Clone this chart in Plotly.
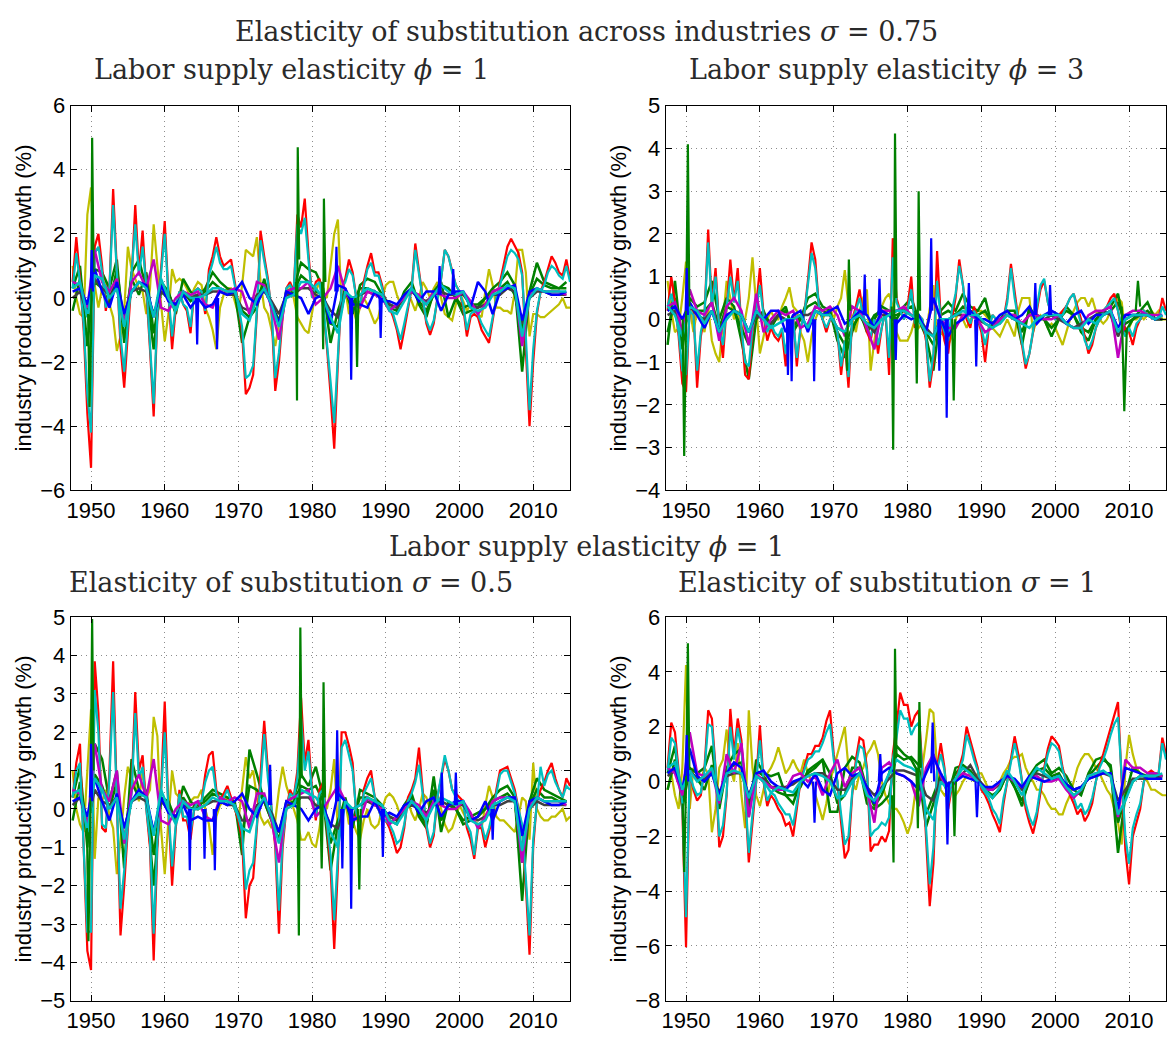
import plotly.graph_objects as go

# ---------------- time grids ----------------
HALF_START, HALF_STEP = 1947.5, 0.5   # half-year series (136 pts: 1947.5 .. 2015.0)
YEAR_START, YEAR_STEP = 1947.5, 1.0   # annual series   (68 pts: 1947.5 .. 2014.5)
X_TICKS = [1950, 1960, 1970, 1980, 1990, 2000, 2010]
X_RANGE = [1947.25, 2015.0]

# ================= Top-left: sigma=0.75, phi=1 =================
TL_RED = [0.5, 1.9, 0.6, -1.0, -3.6,
          -5.3, 1.6, 2.0, 1.0, -0.4, 0.3, 3.4, 0.9, -1.5, -2.8,
          -1.0, 0.6, 2.9, 0.8, 2.1, 0.4, -1.6, -3.7, -0.6, 0.9,
          2.4, 0.1, -1.6, -0.3, 0.2, -0.2, -0.4, -1.1, 0.2, 0.3,
          0.2, -0.5, 0.9, 1.3, 1.9, 1.3, 1.0, 1.1, 1.2, 0.5,
          -0.2, -1.1, -3.0, -2.8, -2.4, -0.5, 2.1, 1.3, 0.6, -0.5,
          -2.9, -2.0, -0.6, 0.3, 0.5, 0.2, 2.6, 2.2, 3.1, 1.4,
          0.0, 0.5, 0.6, -0.3, -1.5, -3.0, -4.7, -2.0, 0.3, 0.6,
          1.2, 0.8, 0.0, -0.3, 0.5, 1.0, 1.4, 0.8, 0.8, 0.4,
          -0.2, -0.3, -0.6, -1.0, -1.6, -1.0, -0.3, 0.3, 1.7, 0.8,
          0.0, -0.8, -1.15, -0.8, 0.0, 0.6, 1.5, 1.3, 0.8, 0.4,
          0.2, -0.3, -1.2, -0.6, -0.5, -0.6, -1.0, -1.2, -1.4, -0.7,
          0.0, 0.5, 1.0, 1.6, 1.85, 1.6, 1.4, 0.8, -1.5, -4.0,
          -2.0, -0.5, 0.2, 0.5, 0.9, 1.3, 1.1, 0.8, 0.7, 1.2,
          0.6]
TL_CYAN = [0.3, 1.4, 0.5, -0.8, -3.0,
           -4.2, 1.4, 1.6, 0.8, -0.3, 0.3, 2.9, 0.8, -1.2, -2.3,
           -0.8, 0.5, 2.3, 0.7, 1.6, 0.4, -1.3, -3.3, -0.5, 0.7,
           2.0, 0.1, -1.2, -0.2, 0.2, -0.2, -0.3, -0.9, 0.2, 0.3,
           0.2, -0.4, 0.7, 1.1, 1.6, 1.1, 0.9, 0.9, 1.0, 0.4,
           -0.2, -0.9, -2.5, -2.4, -2.1, -0.4, 1.8, 1.1, 0.5, -0.4,
           -2.5, -1.7, -0.5, 0.3, 0.4, 0.2, 2.3, 2.0, 2.5, 1.2,
           0.0, 0.4, 0.5, -0.2, -1.3, -2.6, -3.9, -1.7, 0.3, 0.5,
           0.9, 0.7, 0.0, -0.2, 0.4, 0.9, 1.1, 0.7, 0.7, 0.3,
           -0.2, -0.3, -0.5, -0.9, -1.3, -0.8, -0.3, 0.3, 1.5, 0.7,
           0.0, -0.7, -1.0, -0.7, 0.0, 0.6, 1.5, 1.3, 0.8, 0.4,
           0.2, -0.2, -1.0, -0.5, -0.4, -0.5, -0.8, -1.0, -1.2, -0.6,
           0.0, 0.4, 0.9, 1.3, 1.5, 1.4, 1.2, 0.7, -1.2, -3.5,
           -1.6, -0.4, 0.2, 0.4, 0.8, 1.0, 0.9, 0.7, 0.6, 1.0,
           0.5]
TL_YELLOW = [1.0, 0.0, -0.5, -0.6, 2.6,
             3.45, 0.4, -0.3, 0.3, 0.5, -0.2, -0.6, -1.65, -1.2, -0.4,
             1.6, 0.9, 0.6, 0.3, 0.2, -0.5, 0.3, 2.3, 1.0, -0.3,
             -1.35, -0.5, 0.9, 0.5, 0.6, 0.5, 0.3, 0.0, 0.3, 0.5,
             0.4, -0.3, -0.6, -1.0, -1.6, -0.3, 0.1, 0.3, 0.3, -0.1,
             -0.5, 0.4, 1.5, 1.4, 1.3, 1.9, 0.5, -0.3, -0.5, -1.0,
             -1.5, -0.8, -0.5, 0.2, 0.3, 0.0, -0.6, -0.8, -1.0, -1.1,
             -0.5, 0.2, 0.5, 0.1, 0.0, 1.0, 2.0, 2.45, -0.3, 0.3,
             -0.5, -0.3, -0.7, -0.3, 0.0, -0.2, -0.5, -0.8, -0.6, 0.0,
             0.4, 0.5, 0.5, 0.1, -0.2, 0.1, 0.2, -0.1, -0.4, 0.0,
             0.5, 0.3, 0.0, 0.3, 0.5, 0.0, -0.5, -0.6, -0.7, -0.2,
             0.2, -0.1, -0.4, -0.2, -0.3, -0.5, -0.6, 0.2, 0.9, 0.4,
             -0.3, -0.3, -0.4, -0.4, -0.5, 0.2, 1.5, 1.5, 0.8, -1.2,
             -0.5, -0.5, -0.6, -0.6, -0.5, -0.4, -0.3, -0.2, 0.0, -0.3,
             -0.3]
TL_GREEN = [0.3, 1.0, -1.5,
            0.9, 0.8, 0.3, 1.2, -1.4, 0.8, 1.2, 0.3, -1.6, 0.5,
            0.2, -0.5, 0.6, 0.2, 0.0, 0.3, 0.8, 0.5, 0.3, 0.2,
            -1.4, -0.6, -0.3, 0.6, -0.3, -0.8, 0.2, 0.3, 1.1, 0.9,
            0.8, 0.3, -1.4, -0.4, 0.3, -0.5, 0.4, 0.6, 0.5, 0.1,
            -0.3, -0.4, 0.2, 0.5, -0.2, -0.6, 0.2, 0.5, -0.6, 0.0,
            -0.5, -0.4, -0.3, 0.0, 0.3, 0.5, 0.8, 0.4, -2.3, 0.2,
            1.1, 0.5, 0.4, 0.3, 0.5]
TL_GREEN2 = [-0.4, 0.6, -0.5,
             0.5, 0.3, -0.2, 0.9, -0.8, 0.6, 0.1, 0.8, -1.1, 0.2,
             0.0, -0.3, 0.2, -0.1, 0.1, 0.2, 0.5, 0.3, 0.2, 0.1,
             -0.4, -0.6, 0.0, 0.5, -0.2, -0.7, 0.1, 0.2, 0.7, 0.5,
             0.2, 0.1, -0.8, -0.9, 0.2, -0.2, 0.3, 0.3, 0.2, 0.0,
             -0.2, -0.3, 0.1, 0.3, -0.1, -0.4, 0.1, 0.4, 0.3, 0.0,
             -0.3, -0.2, -0.2, 0.0, 0.2, 0.3, 0.5, 0.1, -1.0, 0.1,
             0.6, 0.4, 0.3, 0.3, 0.3]
TL_GRAY = [0.0, 0.2, -0.5,
           0.6, 0.3, 0.1, 0.3, -0.5, 0.2, 0.3, 0.2, -0.5, 0.2,
           0.0, -0.2, 0.1, 0.0, 0.1, 0.1, 0.2, 0.2, 0.1, 0.1,
           -0.3, -0.4, 0.1, 0.2, -0.1, -0.5, 0.1, 0.1, 0.3, 0.3,
           0.1, 0.0, -0.4, -0.6, 0.1, 0.0, 0.1, 0.2, 0.1, 0.1,
           -0.2, -0.3, 0.0, 0.2, 0.0, -0.1, 0.1, 0.2, 0.1, 0.1,
           0.1, -0.2, -0.3, -0.2, 0.1, 0.1, 0.3, 0.2, -0.8, 0.0,
           0.2, 0.2, 0.1, 0.1, 0.1]
TL_BLUE = [0.2, 0.3, -0.2,
           0.9, 0.2, -0.3, 0.5, -0.5, 0.2, 0.5, 0.4, -0.6, 0.4,
           -0.1, -0.2, 0.1, -0.3, 0.0, -0.3, -0.2, 0.2, 0.1, 0.2,
           0.5, 0.0, -0.2, 0.3, -0.2, -0.8, 0.2, 0.1, 0.0, -0.5,
           0.0, 0.1, -0.8, 0.4, 0.3, -0.2, -0.2, -0.3, 0.2, -0.1,
           -0.1, -0.2, 0.1, 0.3, -0.1, 0.2, 0.2, -0.4, 0.1, 0.2,
           0.2, -0.3, 0.5, 0.2, -0.5, 0.2, 0.3, 0.4, -0.7, 0.2,
           0.3, 0.2, 0.1, 0.1, 0.2]
TL_MAGENTA = [0.5, 0.4, -0.3,
              1.5, 0.5, 0.2, 0.6, -0.8, 0.5, 0.8, 0.3, 1.2, -0.3,
              -0.4, 0.0, 0.2, 0.1, 0.2, -0.2, -0.3, 0.3, 0.2, 0.3,
              0.2, -0.5, 0.5, 0.4, -0.3, -1.3, 0.2, 0.3, 0.3, 0.5,
              -0.2, 0.0, 0.3, 1.0, 0.2, -0.2, -0.3, 0.2, 0.1, 0.0,
              -0.4, -0.2, 0.0, 0.2, 0.1, -0.2, 0.2, 0.1, 0.0, 0.0,
              0.2, -0.1, -0.5, -0.2, 0.2, 0.3, 0.3, 0.4, -1.5, 0.1,
              0.3, 0.2, 0.2, 0.2, 0.1]
TL_CYAN2 = [0.3, 0.5, -0.6,
            0.7, 0.6, 0.0, 0.3, -0.9, 0.2, 0.5, 0.3, -0.6, 0.6,
            0.0, -0.4, 0.2, 0.0, 0.0, 0.1, 0.3, 0.3, 0.2, 0.2,
            -0.5, -0.7, 0.0, 0.3, -0.2, -0.9, 0.0, 0.1, 0.5, 0.5,
            0.3, 0.0, -0.6, -1.1, 0.2, 0.0, 0.1, 0.3, 0.2, 0.1,
            -0.4, -0.5, -0.1, 0.3, 0.0, -0.2, 0.1, 0.4, 0.2, 0.1,
            0.2, -0.3, -0.4, -0.3, 0.1, 0.2, 0.4, 0.3, -1.2, 0.0,
            0.3, 0.2, 0.2, 0.2, 0.2]
TL_GREEN_SPK_X = [1949.6, 1949.8, 1950.02, 1950.15, 1950.35, None,
                  1977.8, 1977.95, 1978.05, 1978.25, None,
                  1981.35, 1981.5, 1981.6, 1981.8, None,
                  1985.9, 1986.1, 1986.3]
TL_GREEN_SPK_Y = [-0.5, -3.4, -1.0, 5.0, 0.8, None,
                  0.5, -3.2, 4.7, 1.2, None,
                  0.5, -1.6, 3.1, 0.5, None,
                  0.0, -2.15, 0.2]
TL_BLUE_SPK_X = [1949.95, 1950.1, 1950.25, None, 1964.25, 1964.4, 1964.55, None,
                 1966.95, 1967.1, 1967.25, None, 1983.15, 1983.3, 1983.45, None,
                 1985.15, 1985.3, 1985.45, None, 1989.15, 1989.3, 1989.45, None,
                 1997.15, 1997.3, 1997.45, None, 1999.0, 1999.15, 1999.3]
TL_BLUE_SPK_Y = [0.3, 1.5, 0.2, None, 0.0, -1.45, 0.0, None,
                 0.0, -1.6, 0.0, None, 0.2, 1.6, 0.2, None,
                 0.0, -2.55, 0.0, None, 0.0, -1.25, 0.0, None,
                 0.1, 1.0, 0.1, None, 0.1, 0.9, 0.1]

# ================= Top-right: sigma=0.75, phi=3 =================
TR_RED = [0.2, 1.0, 0.4, -0.4, -1.5,
          -1.7, 0.3, 0.2, -1.6, -0.4, 0.1, 2.1, 0.3, 1.2, -0.2,
          -0.9, 0.3, 1.4, 0.4, 1.2, -0.2, -1.3, -1.4, -0.3, 0.3,
          1.2, 0.1, -0.5, -0.2, -0.4, -0.5, -0.3, -1.1, -0.2, 0.1,
          -1.1, -0.2, 0.1, 0.9, 1.8, 1.4, 0.3, 0.0, -0.3, 0.0,
          0.0, -0.3, -1.3, -0.5, -1.6, 0.0, 0.3, 0.7, 0.1, -0.3,
          -0.5, 0.0, -0.8, -0.2, 0.2, -1.3, 1.9, 0.5, 0.2, 0.0,
          0.3, 1.0, -0.2, 0.1, 0.0, -0.5, -1.6, -1.0, 1.6, 0.0,
          -0.5, -0.8, 0.0, 0.5, 1.4, 0.8, 0.0, -0.2, 0.3, 0.0,
          -0.3, -1.0, -0.2, 0.1, 0.0, -0.1, 0.0, 0.5, 1.3, 0.6,
          0.0, -0.6, -1.15, -0.8, -0.3, 0.3, 0.7, 0.9, 0.4, 0.1,
          0.0, 0.1, 0.2, 0.3, 0.5, 0.6, 0.3, 0.0, -0.4, -0.8,
          -0.6, -0.2, 0.0, 0.2, 0.3, 0.5, 0.6, 0.2, -0.3, -0.2,
          -0.3, -0.6, -0.2, 0.0, 0.2, 0.1, 0.1, 0.0, 0.0, 0.5,
          0.2]
TR_CYAN = [0.3, 0.6, 0.2, -0.3, -1.2,
           -1.3, 0.2, 0.1, -1.2, -0.3, 0.1, 1.8, 0.3, 1.0, -0.2,
           -0.6, 0.3, 1.0, 0.4, 0.9, -0.2, -1.0, -1.1, -0.2, 0.2,
           0.8, 0.1, -0.3, -0.1, -0.3, -0.4, -0.2, -0.8, -0.1, 0.0,
           -0.9, -0.2, 0.1, 0.8, 1.55, 1.2, 0.3, 0.0, -0.2, 0.0,
           0.0, -0.3, -1.1, -0.5, -1.35, 0.0, 0.2, 0.5, 0.1, -0.2,
           -0.4, 0.0, -0.6, -0.2, 0.2, -0.9, 1.45, 0.4, 0.2, 0.0,
           0.2, 0.7, -0.1, 0.1, 0.0, -0.4, -1.45, -0.8, 0.9, 0.0,
           -0.3, -0.5, 0.2, 0.6, 1.25, 0.8, 0.1, -0.1, 0.2, 0.0,
           -0.2, -0.6, -0.2, 0.1, 0.0, -0.1, 0.0, 0.4, 1.2, 0.5,
           0.0, -0.5, -1.05, -0.8, -0.3, 0.3, 0.8, 0.95, 0.4, 0.1,
           0.0, 0.1, 0.1, 0.3, 0.5, 0.6, 0.2, -0.1, -0.5, -0.7,
           -0.5, -0.2, 0.0, 0.2, 0.3, 0.4, 0.5, 0.2, -0.2, -0.4,
           -0.2, -0.4, -0.1, 0.0, 0.2, 0.1, 0.1, 0.0, 0.0, 0.3,
           0.1]
TR_YELLOW = [0.9, 0.2, -0.3, -0.2, 0.5,
             1.35, 0.3, -0.3, 0.2, 0.0, -0.3, 0.3, -0.5, -0.8, -1.0,
             0.0, 0.9, 0.5, 0.0, 0.2, -0.4, 0.0, 0.5, 1.45, 0.2,
             -0.8, -0.4, 0.0, 0.2, 0.0, 0.0, 0.3, 0.5, 0.75, 0.3,
             0.2, -0.3, -0.5, -1.0, -0.4, 0.0, 0.2, 0.0, 0.2, 0.3,
             0.0, 0.3, 0.5, 1.15, 0.3, 0.0, -0.3, 0.2, 0.5, 0.7,
             -1.2, -0.5, 0.0, 0.3, 0.5, 0.6, 0.3, -0.3, -0.5, -0.5,
             -0.5, -0.3, 0.0, -0.2, -0.1, -0.3, 0.2, 0.8, -0.5, -0.3,
             -0.4, -0.6, -0.4, 0.0, 0.2, 0.0, -0.2, 0.0, 0.1, 0.2,
             0.2, 0.1, 0.0, -0.2, -0.3, -0.4, -0.2, 0.0, -0.2, -0.4,
             0.2, 0.5, 0.5, 0.5, -0.3, 0.0, 0.1, 0.0, -0.2, -0.1,
             -0.2, -0.4, -0.6, -0.3, 0.0, 0.2, 0.4, 0.5, 0.5, 0.3,
             0.5, 0.2, 0.0, -0.1, 0.0, 0.2, 0.3, 0.5, 0.4, -0.3,
             -0.2, 0.0, 0.0, 0.1, 0.0, 0.1, 0.2, 0.1, 0.2, 0.0,
             0.0]
TR_GREEN = [-0.6, 0.9, -0.7,
            0.5, 0.3, 0.4, 0.9, 0.0, 0.5, 0.3, -0.5, -1.4, 0.0,
            0.2, -0.2, 0.1, 0.3, -0.3, 0.0, 0.5, 0.6, 0.3, 0.2,
            -0.5, -0.9, -0.3, 0.2, -0.3, 0.0, 0.3, 0.2, 0.0, 0.3,
            0.5, 0.0, -0.4, -1.2, 0.2, 0.4, 0.2, 0.6, 0.3, 0.2,
            0.5, -0.2, 0.0, 0.2, 0.2, -0.6, 0.3, 0.0, 0.0, -0.4,
            0.0, 0.3, 0.1, -0.3, -0.5, 0.0, 0.2, 0.3, 0.6, -0.3,
            0.0, 0.2, 0.4, 0.0, 0.0]
TR_GREEN2 = [-0.3, 0.5, -0.4,
             0.3, 0.2, 0.2, 0.4, -0.2, 0.3, 0.2, -0.2, -0.6, 0.1,
             0.1, -0.1, 0.1, 0.2, -0.2, 0.1, 0.3, 0.4, 0.2, 0.1,
             -0.3, -0.6, -0.2, 0.1, -0.2, 0.1, 0.2, 0.1, 0.1, 0.2,
             0.3, 0.1, -0.3, -0.6, 0.1, 0.2, 0.1, 0.3, 0.2, 0.1,
             0.2, -0.1, 0.0, 0.1, 0.1, -0.3, 0.2, 0.1, 0.0, -0.2,
             0.0, 0.2, 0.1, -0.2, -0.3, 0.0, 0.1, 0.2, 0.4, -0.1,
             0.0, 0.1, 0.2, 0.0, 0.0]
TR_GRAY = [0.1, 0.2, -0.3,
           0.3, 0.1, 0.0, 0.2, -0.3, 0.1, 0.2, 0.1, -0.3, 0.1,
           0.0, -0.1, 0.1, 0.0, 0.0, 0.1, 0.1, 0.2, 0.1, 0.1,
           -0.2, -0.3, 0.0, 0.1, -0.1, -0.3, 0.1, 0.1, 0.2, 0.2,
           0.1, 0.0, -0.2, -0.4, 0.0, 0.0, 0.1, 0.1, 0.1, 0.0,
           -0.1, -0.2, 0.0, 0.1, 0.0, -0.1, 0.1, 0.1, 0.0, 0.1,
           0.0, -0.1, -0.2, -0.1, 0.0, 0.1, 0.2, 0.1, -0.4, 0.0,
           0.1, 0.1, 0.1, 0.0, 0.0]
TR_BLUE = [0.2, 0.3, 0.0,
           0.4, 0.1, -0.2, 0.2, -0.3, 0.1, 0.2, 0.1, -0.3, 0.2,
           0.0, 0.2, 0.2, -0.3, 0.1, 0.2, -0.3, 0.2, 0.1, 0.2,
           0.3, -0.1, 0.0, 0.2, 0.1, -0.2, 0.2, 0.1, -0.1, 0.1,
           0.0, 0.1, -0.3, 0.5, 0.0, -0.4, -0.1, 0.0, 0.2, 0.0,
           0.0, -0.1, 0.1, 0.2, 0.0, 0.1, 0.3, -0.1, 0.1, 0.2,
           0.1, -0.1, 0.1, 0.2, -0.1, 0.1, 0.1, 0.2, -0.2, 0.1,
           0.1, 0.1, 0.1, 0.0, 0.1]
TR_MAGENTA = [0.3, 0.4, -0.3,
              0.7, 0.2, 0.1, 0.4, -0.5, 0.3, 0.5, 0.2, -0.6, 0.6,
              -0.3, 0.0, 0.2, 0.1, 0.2, -0.2, -0.1, 0.3, 0.2, 0.3,
              0.1, -0.4, 0.3, 0.2, -0.2, -0.7, 0.2, 0.2, 0.2, 0.3,
              0.1, 0.0, -0.3, 0.5, 0.0, -0.2, -0.2, 0.1, 0.1, 0.0,
              -0.3, -0.2, 0.0, 0.1, 0.1, -0.1, 0.1, 0.1, 0.0, 0.0,
              0.1, -0.1, -0.2, -0.2, 0.1, 0.2, 0.2, 0.3, -0.9, 0.1,
              0.2, 0.2, 0.1, 0.1, 0.1]
TR_CYAN2 = [0.3, 0.1, -0.4,
            0.3, 0.2, -0.1, 0.2, -0.3, 0.0, 0.2, 0.1, -0.3, 0.2,
            0.0, -0.2, -0.1, 0.0, 0.0, 0.1, -0.2, 0.2, 0.1, 0.1,
            -0.2, -0.3, 0.0, 0.1, -0.1, -0.2, 0.0, 0.1, 0.2, 0.2,
            0.1, 0.0, -0.3, -0.4, 0.0, 0.0, 0.1, 0.2, 0.1, 0.1,
            -0.1, -0.2, -0.1, 0.1, 0.0, -0.1, -0.2, 0.0, 0.1, 0.1,
            0.1, -0.1, -0.2, -0.2, 0.0, -0.1, 0.1, 0.2, -0.3, 0.0,
            0.1, 0.1, 0.1, 0.0, 0.1]
TR_GREEN_SPK_X = [1949.55, 1949.75, 1950.05, 1950.25, 1950.45, None,
                  1977.85, 1978.05, 1978.2, 1978.3, 1978.5, None,
                  1981.05, 1981.25, 1981.4, 1981.5, 1981.7, None,
                  1971.6, 1971.8, 1971.95, 1972.05, 1972.25, None,
                  1986.05, 1986.25, 1986.45, None,
                  2009.0, 2009.35, 2009.7, None,
                  2010.9, 2011.2, 2011.5]
TR_GREEN_SPK_Y = [0.0, -3.2, 0.5, 4.1, 0.3, None,
                  0.3, -3.05, 0.5, 4.35, 0.5, None,
                  0.2, -1.5, 0.3, 3.0, 0.2, None,
                  -0.3, -1.2, 0.3, 1.4, 0.2, None,
                  0.0, -1.9, 0.0, None,
                  0.3, -2.15, -0.2, None,
                  0.2, 0.9, 0.3]
TR_BLUE_SPK_X = [1949.95, 1950.1, 1950.25, None, 1963.65, 1963.8, 1963.95, None,
                 1964.15, 1964.3, 1964.45, None, 1967.2, 1967.35, 1967.5, None,
                 1974.05, 1974.2, 1974.35, None, 1976.05, 1976.2, 1976.35, None,
                 1978.25, 1978.4, 1978.55, None, 1983.05, 1983.2, 1983.35, None,
                 1984.15, 1984.3, 1984.45, None, 1985.15, 1985.3, 1985.45, None,
                 1988.15, 1988.3, 1988.45, None, 1989.15, 1989.3, 1989.45, None,
                 1997.15, 1997.3, 1997.45, None, 1999.15, 1999.3, 1999.45]
TR_BLUE_SPK_Y = [0.2, 1.2, 0.1, None, 0.0, -1.3, 0.0, None,
                 0.0, -1.45, 0.0, None, 0.0, -1.45, 0.0, None,
                 0.1, 1.05, 0.1, None, 0.1, 0.95, 0.1, None,
                 0.0, -0.95, 0.0, None, 0.2, 1.9, 0.2, None,
                 0.0, -1.2, 0.0, None, 0.0, -2.3, 0.0, None,
                 0.1, 0.85, 0.1, None, 0.0, -1.1, 0.0, None,
                 0.1, 0.85, 0.1, None, 0.1, 0.8, 0.1]

# ================= Bottom-left: sigma=0.5, phi=1 =================
BL_RED = [0.3, 1.2, 1.7, -1.0, -3.7,
          -4.2, 3.85, 2.5, -0.5, -0.6, 1.0, 3.85, 0.5, -3.3, -2.0,
          -0.5, 0.5, 3.05, 1.0, 1.4, 0.0, -1.0, -3.95, -1.0, 0.5,
          2.8, 0.0, -2.0, -0.5, 0.5, -0.3, -0.3, -0.8, 0.0, 0.2,
          0.2, 0.9, 1.4, 1.5, 0.5, 0.2, 0.4, 0.6, 0.3, 0.0,
          -0.3, -0.8, -2.85, -2.0, -1.8, -0.5, 0.8, 2.3, 1.0, 0.0,
          -1.0, -3.25, -1.0, 0.0, 0.5, 0.3, 1.0, 2.9, 1.2, 1.8,
          0.5, -0.3, 0.5, 0.7, -0.5, -1.5, -3.65, -1.5, 2.0, 2.0,
          1.65, 1.2, -0.2, -0.5, 0.5, 0.8, 1.0, 0.3, 0.0, -0.3,
          -0.3, -0.5, -0.8, -1.15, -1.0, -0.5, 0.3, 0.5, 0.8, 1.6,
          0.5, -0.5, -1.0, -0.7, 0.3, 0.8, 1.3, 1.0, 0.5, 0.4,
          0.3, 0.2, -0.5, -0.8, -1.3, -0.5, -0.5, -1.0, -0.6, -0.2,
          0.5, 1.0, 1.05, 1.1, 0.8, 0.5, 0.0, -0.5, -2.0, -3.8,
          -1.0, 0.2, 0.5, 0.7, 1.0, 1.2, 0.8, 0.5, 0.3, 0.8,
          0.6]
BL_CYAN = [0.3, 1.0, 1.2, -1.0, -3.2,
           -3.2, 3.1, 2.0, -0.4, -0.5, 0.8, 3.05, 0.4, -2.6, -1.6,
           -0.4, 0.4, 2.5, 0.8, 1.1, 0.0, -0.8, -3.25, -0.8, 0.4,
           2.0, 0.0, -1.5, -0.4, 0.4, -0.2, -0.2, -0.6, 0.0, 0.2,
           0.2, 0.7, 1.0, 1.1, 0.4, 0.2, 0.3, 0.5, 0.2, 0.0,
           -0.2, -0.6, -2.1, -1.6, -1.4, -0.4, 0.6, 1.95, 0.8, 0.0,
           -0.8, -2.65, -0.8, 0.0, 0.4, 0.3, 0.8, 2.35, 1.0, 1.5,
           0.4, -0.2, 0.4, 0.5, -0.4, -1.2, -2.9, -1.2, 1.6, 1.8,
           1.4, 1.0, -0.1, -0.4, 0.4, 0.6, 0.8, 0.3, 0.0, -0.3,
           -0.3, -0.4, -0.6, -0.9, -0.8, -0.4, 0.2, 0.4, 0.7, 1.15,
           0.4, -0.4, -0.9, -0.6, 0.3, 0.8, 1.4, 1.0, 0.5, 0.3,
           0.2, 0.1, -0.4, -0.6, -1.2, -0.4, -0.4, -0.8, -0.5, -0.1,
           0.4, 0.9, 1.0, 1.0, 0.7, 0.4, 0.0, -0.4, -1.8, -3.3,
           -0.8, 0.2, 1.1, 0.6, 0.9, 1.0, 0.7, 0.5, 0.3, 0.6,
           0.5]
BL_YELLOW = [1.0, 0.0, -0.4, -0.6, 1.0,
             2.6, -1.3, 0.3, 0.2, 0.5, -0.2, -0.5, -1.7, -0.8, 0.3,
             1.1, 0.8, 0.6, 0.2, 1.0, 0.3, 0.5, 2.4, 1.9, -0.5,
             -1.7, -0.3, 1.0, 0.4, 0.3, 0.2, 0.1, 0.2, 0.3, 0.3,
             0.5, 0.0, -0.4, -1.2, -0.2, 0.1, 0.2, 0.3, 0.2, 0.0,
             -0.3, 0.5, 1.35, 0.8, 1.0, 0.3, -0.2, -0.4, -0.3, -0.5,
             -0.3, 0.5, 1.1, 0.6, 0.3, 0.0, -0.3, -0.8, -0.8, -0.6,
             -0.9, -1.0, -0.5, 0.2, 0.0, 0.5, 1.3, -0.6, -0.3, 0.2,
             -0.4, -0.3, -0.6, -0.8, -0.3, 0.0, -0.4, -0.5, -0.4, 0.0,
             0.3, 0.4, 0.3, 0.1, -0.2, 0.1, 0.2, -0.1, -0.3, 0.0,
             0.4, 0.3, 0.0, 0.2, 0.4, 0.0, -0.4, -0.6, -0.5, -0.2,
             0.1, -0.1, -0.3, -0.2, -0.3, -0.4, -0.5, 0.1, 0.6, 0.3,
             -0.2, -0.3, -0.3, -0.4, -0.5, -0.6, -0.2, 0.3, 0.2, -0.8,
             1.2, 0.0, -0.2, -0.3, -0.3, -0.2, -0.2, -0.1, 0.0, -0.3,
             -0.2]
BL_GREEN = [0.3, 1.1, -1.0,
            1.7, 1.3, 0.2, 1.0, -1.55, 1.3, 0.5, 0.3, -2.0, 0.3,
            0.2, -0.3, 0.6, 0.2, 0.0, 0.3, 0.5, 0.4, 0.3, 0.2,
            -1.2, 1.55, 0.9, 0.2, -0.3, -0.8, 0.2, 0.3, 0.9, 0.6,
            1.1, 0.3, -1.6, -0.4, 0.3, -0.5, 0.5, 0.4, 0.3, 0.1,
            -0.3, -0.4, 0.1, 0.4, -0.2, -0.5, 0.85, -0.6, 0.2, 0.0,
            -0.4, -0.3, -0.2, 0.0, 0.3, 0.5, 0.6, 0.3, -2.4, 0.2,
            0.8, 0.5, 0.4, 0.3, 0.2]
BL_GREEN2 = [-0.3, 0.7, -0.6,
             0.9, 0.6, 0.0, 0.7, -0.9, 0.7, 0.3, 0.5, -1.2, 0.2,
             0.1, -0.3, 0.3, 0.0, 0.1, 0.2, 0.4, 0.3, 0.2, 0.1,
             -0.7, 0.6, 0.5, 0.2, -0.3, -0.6, 0.1, 0.2, 0.6, 0.5,
             0.6, 0.2, -0.9, -0.3, 0.2, -0.3, 0.3, 0.3, 0.2, 0.0,
             -0.2, -0.3, 0.1, 0.3, -0.1, -0.4, 0.5, -0.3, 0.1, 0.0,
             -0.3, -0.2, -0.1, 0.0, 0.2, 0.3, 0.4, 0.2, -1.4, 0.1,
             0.5, 0.3, 0.3, 0.2, 0.2]
BL_GRAY = [0.1, 0.3, -0.4,
           0.5, 0.2, 0.1, 0.3, -0.5, 0.2, 0.3, 0.2, -0.6, 0.2,
           0.0, -0.2, 0.1, 0.0, 0.0, 0.1, 0.2, 0.2, 0.1, 0.1,
           -0.3, -0.3, 0.1, 0.2, -0.1, -0.6, 0.1, 0.1, 0.3, 0.3,
           0.1, 0.0, -0.4, -0.5, 0.1, 0.0, 0.1, 0.2, 0.1, 0.0,
           -0.2, -0.3, 0.0, 0.1, 0.0, -0.1, 0.1, 0.2, 0.1, 0.1,
           0.1, -0.2, -0.3, -0.2, 0.1, 0.1, 0.2, 0.2, -0.7, 0.0,
           0.2, 0.1, 0.1, 0.1, 0.1]
BL_BLUE = [0.2, 0.3, -0.2,
           0.8, 0.2, -0.3, 0.4, -0.5, 0.2, 0.5, 0.3, -0.6, 0.3,
           -0.1, -0.2, 0.1, -0.3, -0.2, -0.3, -0.3, 0.2, 0.1, 0.2,
           0.4, 0.0, -0.2, 0.3, -0.2, -0.6, 0.2, 0.1, 0.0, -0.3,
           0.0, 0.1, -0.5, 0.4, 0.2, -0.3, -0.2, -0.2, 0.2, -0.2,
           -0.1, -0.2, 0.1, 0.2, -0.1, 0.2, 0.3, -0.2, 0.1, 0.2,
           0.2, -0.3, -0.2, 0.2, -0.3, 0.2, 0.3, 0.3, -0.7, 0.2,
           0.3, 0.2, 0.1, 0.1, 0.2]
BL_MAGENTA = [0.5, 0.4, -0.5,
              1.7, 0.5, 0.2, 1.0, -0.9, 0.5, 0.9, 0.3, 1.3, -0.3,
              -0.4, 0.0, 0.2, 0.1, 0.2, -0.2, -0.3, 0.3, 0.2, 0.3,
              0.2, -0.5, 0.4, 0.4, -0.3, -1.4, 0.2, 0.3, 0.4, 0.5,
              -0.2, 0.0, 0.3, 0.6, 0.2, -0.2, -0.3, 0.3, 0.1, 0.0,
              -0.4, -0.2, 0.0, 0.2, 0.1, -0.2, 0.2, 0.1, 0.0, 0.0,
              0.2, -0.1, -0.5, -0.2, 0.2, 0.3, 0.3, 0.3, -1.4, 0.1,
              0.3, 0.2, 0.2, 0.2, 0.1]
BL_CYAN2 = [0.4, 0.5, -0.6,
            0.8, 0.5, 0.0, 0.3, -0.8, 0.2, 0.4, 0.3, -0.7, 0.5,
            0.0, -0.4, 0.2, 0.0, 0.0, 0.1, 0.3, 0.2, 0.2, 0.1,
            -0.5, -0.6, 0.0, 0.3, -0.2, -0.9, 0.0, 0.1, 0.5, 0.4,
            0.3, 0.0, -0.6, -1.0, 0.2, 0.0, 0.1, 0.3, 0.2, 0.1,
            -0.3, -0.4, -0.1, 0.2, 0.0, -0.3, 0.1, 0.3, 0.2, 0.1,
            0.2, -0.3, -0.4, -0.3, 0.1, 0.2, 0.3, 0.2, -1.1, 0.0,
            0.3, 0.2, 0.2, 0.2, 0.2]
BL_GREEN_SPK_X = [1949.45, 1949.65, 1949.95, 1950.15, 1950.35, None,
                  1978.0, 1978.2, 1978.3, 1978.4, 1978.6, None,
                  1981.1, 1981.3, 1981.45, 1981.55, 1981.75, None,
                  1986.2, 1986.4, 1986.6]
BL_GREEN_SPK_Y = [-0.5, -3.45, 0.5, 4.95, 1.0, None,
                  0.3, -3.3, 0.5, 4.73, 0.8, None,
                  0.3, -1.55, 0.3, 3.3, 0.3, None,
                  0.0, -2.1, 0.0]
BL_BLUE_SPK_X = [1949.85, 1950.0, 1950.15, None, 1963.25, 1963.4, 1963.55, None,
                 1965.25, 1965.4, 1965.55, None, 1966.65, 1966.8, 1966.95, None,
                 1974.15, 1974.3, 1974.45, None, 1983.25, 1983.4, 1983.55, None,
                 1983.95, 1984.1, 1984.25, None, 1985.15, 1985.3, 1985.45, None,
                 1989.45, 1989.6, 1989.75, None, 1997.45, 1997.6, 1997.75, None,
                 1999.35, 1999.5, 1999.65, None, 2004.35, 2004.5, 2004.65]
BL_BLUE_SPK_Y = [0.3, 1.7, 0.2, None, 0.0, -1.6, 0.0, None,
                 0.0, -1.3, 0.0, None, 0.0, -1.6, 0.0, None,
                 0.1, 1.15, 0.1, None, 0.2, 2.05, 0.2, None,
                 0.0, -1.55, 0.0, None, 0.0, -2.6, 0.0, None,
                 0.0, -1.25, 0.0, None, 0.1, 0.95, 0.1, None,
                 0.1, 0.95, 0.1, None, 0.0, -0.8, 0.0]

# ================= Bottom-right: sigma=1, phi=1 =================
BR_RED = [0.5, 2.15, 1.8, 0.5, -1.0,
          -6.05, 0.3, -0.3, -0.7, -0.5, 0.5, 2.6, 2.3, 0.5, -2.4,
          -2.0, -0.5, 2.65, 1.0, 2.3, 1.5, -0.5, -2.95, -1.5, 0.0,
          2.05, 0.0, -0.9, -0.5, -0.7, -1.0, -1.2, -1.6, -1.5, -2.0,
          -1.0, 0.0, 0.5, 1.0, 1.0, 1.3, 1.3, 1.6, 2.2, 2.6,
          1.0, 0.0, -1.5, -2.8, -2.5, -0.5, 0.8, 1.6, 1.5, 0.5,
          -2.55, -2.3, -2.3, -2.0, -2.2, -1.8, 1.0, 2.0, 3.25, 2.8,
          2.8, 2.0, 2.4, 2.6, 0.5, -2.0, -4.55, -3.0, 0.5, 1.4,
          0.5, -1.0, -0.2, 0.0, 0.5, 1.0, 2.0, 1.5, 1.0, 0.5,
          -0.3, -0.5, -0.8, -1.2, -1.5, -1.85, -0.8, 0.0, 0.8, 1.65,
          1.0, 0.0, -1.0, -1.5, -1.9, -1.3, -0.3, 0.5, 1.2, 1.65,
          1.5, 1.3, 0.5, 0.0, -0.5, -0.8, -1.2, -1.0, -1.45, -1.2,
          -0.8, 0.0, 0.6, 1.0, 1.5, 2.0, 2.5, 2.9, 0.0, -2.5,
          -3.75, -2.0, -1.5, -1.0, 0.0, 0.3, 0.4, 0.3, 0.3, 1.6,
          1.0]
BR_CYAN = [0.4, 1.6, 1.4, 0.4, -0.8,
           -4.95, 0.3, -0.2, -0.5, -0.4, 0.4, 2.1, 2.0, 0.4, -2.0,
           -1.6, -0.4, 2.0, 0.8, 1.95, 1.2, -0.4, -2.6, -1.2, 0.0,
           1.5, 0.0, -0.7, -0.4, -0.5, -0.8, -1.0, -1.2, -1.2, -1.6,
           -0.8, 0.0, 0.4, 0.8, 0.9, 1.1, 1.1, 1.4, 1.8, 2.1,
           0.8, 0.0, -1.2, -2.3, -2.0, -0.4, 0.6, 1.3, 1.2, 0.4,
           -2.0, -1.8, -1.7, -1.5, -1.6, -1.3, 0.8, 1.6, 2.6, 2.3,
           2.3, 1.7, 2.0, 2.15, 0.4, -1.6, -3.75, -2.4, 0.4, 1.0,
           0.4, -0.8, -0.1, 0.0, 0.4, 0.8, 1.7, 1.3, 0.8, 0.4,
           -0.2, -0.4, -0.6, -1.0, -1.2, -1.55, -0.6, 0.0, 0.7, 1.4,
           0.8, 0.0, -0.8, -1.3, -1.6, -1.1, -0.2, 0.4, 1.0, 1.4,
           1.3, 1.1, 0.4, 0.0, -0.4, -0.6, -1.0, -0.8, -1.2, -1.0,
           -0.6, 0.0, 0.5, 0.8, 1.2, 1.7, 2.1, 2.35, 0.0, -2.0,
           -3.0, -1.7, -1.2, -0.8, 0.0, 0.3, 0.3, 0.3, 0.3, 1.4,
           0.8]
BR_YELLOW = [-0.3, 0.3, -0.5, -1.0, 0.5,
             4.25, -1.0, 0.5, 0.3, 0.0, 0.5, 0.3, -1.85, -1.0, 0.5,
             0.8, 1.9, 0.5, 0.0, 1.4, -0.5, -1.7, 2.6, 0.5, -0.5,
             -0.9, -0.3, 0.3, 0.5, 0.8, 1.25, 0.8, 0.3, 0.5, 0.8,
             0.5, 0.3, 0.8, 0.3, 0.0, -0.5, -1.0, -1.4, -0.8, 0.0,
             0.5, 1.0, 1.5, 2.0, 0.5, 0.0, -0.3, 0.3, 0.5, 1.0,
             1.2, 1.5, 1.0, 0.0, -0.5, -0.8, -1.0, -1.0, -1.2, -1.5,
             -1.9, -1.5, -0.5, 0.0, 0.5, 1.5, 2.65, 2.5, 0.5, -0.3,
             -0.5, -0.3, -0.3, -0.5, -0.3, 0.0, 0.2, 0.3, 0.0, 0.3,
             0.3, 0.0, -0.3, -0.3, -0.2, 0.0, 0.3, 0.5, 0.8, 0.9,
             0.9, 1.0, 0.5, 0.2, 0.0, -0.3, -0.3, -0.5, -0.8, -1.0,
             -1.0, -1.2, -1.2, -0.8, -0.5, 0.0, 0.5, 0.8, 1.0, 1.0,
             0.8, 0.5, 0.3, 0.0, -0.3, -0.5, -1.0, -1.5, -2.3, 0.5,
             1.7, 1.0, 0.5, 0.3, 0.2, 0.0, -0.3, -0.3, -0.4, -0.5,
             -0.5]
BR_GREEN = [0.3, 1.3, -1.0,
            0.5, 0.3, 0.5, 1.3, -1.0, 0.5, 1.0, 1.2, -1.3, 0.8,
            0.3, 0.2, 0.3, -0.5, -0.8, 0.0, 0.3, 0.5, 0.8, -1.1,
            -1.1, 0.5, 0.9, 0.7, -0.3, -0.9, -0.5, 0.3, 1.3, 1.0,
            0.8, 0.3, -1.65, -0.8, 0.3, -0.5, 0.5, 0.6, 0.3, 0.1,
            -0.3, -0.5, -0.3, 0.3, -0.2, -0.9, 0.2, 0.6, 0.8, 0.3,
            0.5, 0.2, -0.3, -0.5, 0.3, 0.8, 0.9, 0.5, -2.6, -0.5,
            0.5, 0.3, 0.2, 0.3, 0.2]
BR_GREEN2 = [-0.3, 0.8, -0.6,
             0.4, 0.1, -0.3, 0.6, -0.7, 0.4, 0.6, 0.7, -0.9, 0.4,
             0.2, -0.2, -0.4, -0.5, -0.5, -0.2, 0.4, 0.6, 0.8, 0.3,
             -0.8, -0.5, 0.5, 0.5, -0.8, -1.0, -0.8, -0.5, 1.0, 0.8,
             0.9, 0.6, -1.2, -0.5, 0.2, -0.3, 0.3, 0.6, 0.4, 0.0,
             -0.3, -0.6, -0.3, 0.3, -0.2, -0.7, 0.0, 0.4, 0.5, 0.2,
             0.3, -0.2, -0.5, -0.4, 0.2, 0.5, 0.8, 0.6, -1.5, -0.6,
             0.0, 0.2, 0.2, 0.2, 0.2]
BR_GRAY = [0.2, 0.4, -0.4,
           0.4, 0.1, 0.1, 0.3, -0.4, 0.2, 0.3, 0.3, -0.5, 0.2,
           0.1, -0.2, -0.2, -0.2, -0.1, 0.1, 0.2, 0.3, 0.3, 0.1,
           -0.3, -0.3, 0.1, 0.3, -0.2, -0.5, -0.2, 0.1, 0.4, 0.4,
           0.3, 0.2, -0.5, -0.7, 0.1, -0.1, 0.1, 0.3, 0.6, 0.1,
           -0.2, -0.3, -0.1, 0.2, 0.0, -0.3, 0.1, 0.3, 0.2, 0.1,
           0.1, -0.1, -0.3, -0.2, 0.1, 0.2, 0.3, 0.2, -0.7, -0.3,
           0.1, 0.1, 0.1, 0.1, 0.2]
BR_BLUE = [0.3, 0.5, -0.3,
           1.2, 0.2, 0.0, 0.3, -0.5, 0.3, 0.7, 0.5, -0.6, 0.3,
           0.4, 0.0, -0.2, -0.3, 0.0, 0.1, -0.2, 0.3, -0.3, -0.5,
           0.3, 0.5, 0.2, 0.3, -0.2, -0.8, 0.3, 0.5, 0.3, 0.2,
           0.0, -0.3, 0.3, 0.9, 0.3, -0.2, 0.0, 0.2, 0.1, 0.0,
           -0.2, -0.2, 0.0, 0.2, 0.1, -0.2, 0.2, 0.1, 0.0, 0.1,
           0.2, -0.1, -0.3, -0.2, 0.1, 0.2, 0.3, 0.3, -1.0, 0.5,
           0.4, 0.3, 0.1, 0.1, 0.1]
BR_MAGENTA = [0.5, 0.3, -0.5,
              1.8, 0.3, 0.2, 0.4, -0.8, 1.0, 0.3, 1.4, -1.3, 0.3,
              0.0, -0.2, -0.3, -0.3, 0.2, 0.3, 0.0, 0.2, -0.5, 0.3,
              0.8, -0.2, 0.3, 0.5, -0.3, -1.5, 0.5, 0.7, 0.3, 0.2,
              0.0, -0.9, 0.5, 1.0, 0.2, -0.3, 0.0, 0.3, 0.2, 0.0,
              -0.3, -0.3, 0.0, 0.2, 0.0, -0.2, 0.1, 0.2, 0.0, 0.0,
              0.1, -0.3, -0.6, -0.3, 0.2, 0.3, 0.3, 0.3, -1.3, 0.8,
              0.5, 0.5, 0.3, 0.3, 0.2]
BR_CYAN2 = [0.5, 0.7, -0.3,
            0.4, 0.0, 0.2, 0.5, -0.7, 0.3, 0.4, 0.3, -0.6, 0.2,
            0.0, -0.4, -0.2, -0.3, -0.4, 0.0, 0.2, 0.3, 0.2, 0.0,
            -0.6, -0.5, 0.0, 0.3, -0.5, -0.7, -0.3, 0.3, 0.8, 0.6,
            0.5, 0.3, -1.0, -1.4, 0.0, -0.3, 0.1, 0.5, 0.3, 0.0,
            -0.3, -0.6, -0.2, 0.4, 0.0, -0.5, 0.1, 0.5, 0.3, 0.1,
            0.2, -0.2, -0.5, -0.3, 0.2, 0.3, 0.4, 0.2, -1.2, -0.7,
            0.0, 0.2, 0.2, 0.2, 0.3]
BR_GREEN_SPK_X = [1949.55, 1949.75, 1950.05, 1950.25, 1950.45, None,
                  1977.9, 1978.1, 1978.2, 1978.3, 1978.5, None,
                  1981.2, 1981.4, 1981.5, 1981.6, 1981.8, None,
                  1986.15, 1986.35, 1986.55]
BR_GREEN_SPK_Y = [-0.8, -3.3, 0.5, 5.05, 0.5, None,
                  -0.5, -2.95, 0.5, 4.85, 1.0, None,
                  0.5, -1.7, 0.5, 2.9, 0.5, None,
                  0.0, -2.0, 0.0]
BR_BLUE_SPK_X = [1949.9, 1950.1, 1950.3, None, 1967.2, 1967.4, 1967.6, None,
                 1976.1, 1976.3, 1976.5, None, 1983.2, 1983.4, 1983.6, None,
                 1985.2, 1985.4, 1985.6, None, 1989.2, 1989.4, 1989.6]
BR_BLUE_SPK_Y = [0.2, 1.7, 0.0, None, 0.0, -1.5, 0.0, None,
                 0.0, 1.0, 0.0, None, 0.3, 2.15, 0.0, None,
                 0.0, -2.3, 0.0, None, 0.0, -1.3, 0.0]

# ---------------- styling ----------------
C_RED, C_CYAN, C_YELLOW = "#FF0000", "#00BFBF", "#BFBF00"
C_GREEN, C_BLUE, C_MAG, C_GRAY = "#008000", "#0000FF", "#BF00BF", "#404040"
LW_BIG = 2.2
LW_SMALL = 2.5
TICK_FONT = dict(family="Liberation Sans, Arial, sans-serif", size=22, color="black")
TITLE_FONT = dict(family="DejaVu Serif, serif", size=27, color="#2a2a2a")
YLABEL = "industry productivity growth (%)"


def grid_x(vals, start, step):
    return [start + step * i for i in range(len(vals))]


panels = [
    dict(xa="x", ya="y", dom_x=[67 / 1168, 568 / 1168], dom_y=[1 - 490 / 1044, 1 - 96 / 1044],
         yr=[-6, 6], dt=2,
         half=[(TL_YELLOW, C_YELLOW), (TL_RED, C_RED), (TL_CYAN, C_CYAN)],
         year=[(TL_GREEN2, C_GREEN), (TL_GREEN, C_GREEN), (TL_GRAY, C_GRAY), (TL_MAGENTA, C_MAG),
               (TL_BLUE, C_BLUE), (TL_CYAN2, C_CYAN)],
         spk=[(TL_GREEN_SPK_X, TL_GREEN_SPK_Y, C_GREEN), (TL_BLUE_SPK_X, TL_BLUE_SPK_Y, C_BLUE)]),
    dict(xa="x2", ya="y2", dom_x=[664 / 1168, 1166 / 1168], dom_y=[1 - 490 / 1044, 1 - 96 / 1044],
         yr=[-4, 5], dt=1,
         half=[(TR_YELLOW, C_YELLOW), (TR_RED, C_RED), (TR_CYAN, C_CYAN)],
         year=[(TR_GREEN2, C_GREEN), (TR_GREEN, C_GREEN), (TR_GRAY, C_GRAY), (TR_MAGENTA, C_MAG),
               (TR_BLUE, C_BLUE), (TR_CYAN2, C_CYAN)],
         spk=[(TR_GREEN_SPK_X, TR_GREEN_SPK_Y, C_GREEN), (TR_BLUE_SPK_X, TR_BLUE_SPK_Y, C_BLUE)]),
    dict(xa="x3", ya="y3", dom_x=[67 / 1168, 568 / 1168], dom_y=[1 - 1013 / 1044, 1 - 620 / 1044],
         yr=[-5, 5], dt=1,
         half=[(BL_YELLOW, C_YELLOW), (BL_RED, C_RED), (BL_CYAN, C_CYAN)],
         year=[(BL_GREEN2, C_GREEN), (BL_GREEN, C_GREEN), (BL_GRAY, C_GRAY), (BL_MAGENTA, C_MAG),
               (BL_BLUE, C_BLUE), (BL_CYAN2, C_CYAN)],
         spk=[(BL_GREEN_SPK_X, BL_GREEN_SPK_Y, C_GREEN), (BL_BLUE_SPK_X, BL_BLUE_SPK_Y, C_BLUE)]),
    dict(xa="x4", ya="y4", dom_x=[664 / 1168, 1166 / 1168], dom_y=[1 - 1013 / 1044, 1 - 620 / 1044],
         yr=[-8, 6], dt=2,
         half=[(BR_YELLOW, C_YELLOW), (BR_RED, C_RED), (BR_CYAN, C_CYAN)],
         year=[(BR_GREEN2, C_GREEN), (BR_GREEN, C_GREEN), (BR_GRAY, C_GRAY), (BR_MAGENTA, C_MAG),
               (BR_BLUE, C_BLUE), (BR_CYAN2, C_CYAN)],
         spk=[(BR_GREEN_SPK_X, BR_GREEN_SPK_Y, C_GREEN), (BR_BLUE_SPK_X, BR_BLUE_SPK_Y, C_BLUE)]),
]

fig = go.Figure()
layout = dict(
    width=1168, height=1044, margin=dict(l=0, r=0, t=0, b=0),
    paper_bgcolor="white", plot_bgcolor="white", showlegend=False,
)

for p in panels:
    def add(x, y, c, w):
        fig.add_trace(go.Scatter(x=x, y=y, mode="lines", xaxis=p["xa"], yaxis=p["ya"],
                                 line=dict(color=c, width=w), hoverinfo="skip"))
    add(grid_x(p["half"][0][0], HALF_START, HALF_STEP), p["half"][0][0], p["half"][0][1], LW_BIG)
    for vals, c in p["year"][:2]:
        add(grid_x(vals, YEAR_START, YEAR_STEP), vals, c, LW_SMALL)
    for vals, c in p["half"][1:]:
        add(grid_x(vals, HALF_START, HALF_STEP), vals, c, LW_BIG)
    for vals, c in p["year"][2:]:
        add(grid_x(vals, YEAR_START, YEAR_STEP), vals, c, LW_SMALL)
    for sx, sy, c in p["spk"]:
        add(sx, sy, c, LW_BIG)

    axis_common = dict(showline=True, linecolor="black", linewidth=1, mirror="ticks",
                       ticks="inside", ticklen=6, tickcolor="black", tickwidth=1,
                       showgrid=True, gridcolor="#8c8c8c", griddash="1px,4px", gridwidth=1,
                       zeroline=False, tickfont=TICK_FONT)
    xkey = "xaxis" if p["xa"] == "x" else "xaxis" + p["xa"][1:]
    ykey = "yaxis" if p["ya"] == "y" else "yaxis" + p["ya"][1:]
    layout[xkey] = dict(axis_common, domain=p["dom_x"], range=X_RANGE, tickvals=X_TICKS,
                        anchor=p["ya"])
    layout[ykey] = dict(axis_common, domain=p["dom_y"], range=p["yr"], dtick=p["dt"],
                        tick0=0, anchor=p["xa"],
                        title=dict(text=YLABEL, standoff=2,
                                   font=dict(family="Liberation Sans, Arial, sans-serif",
                                             size=22, color="black")))

titles = [
    ("Elasticity of substitution across industries <i>σ</i> = 0.75", 584, 20),
    ("Labor supply elasticity <i>ϕ</i> = 1", 288, 59),
    ("Labor supply elasticity <i>ϕ</i> = 3", 886, 59),
    ("Labor supply elasticity <i>ϕ</i> = 1", 585, 548),
    ("Elasticity of substitution <i>σ</i> = 0.5", 288, 584),
    ("Elasticity of substitution <i>σ</i> = 1", 886, 584),
]
layout["annotations"] = [
    dict(text=t, x=px / 1168, y=1 - py / 1044, xref="paper", yref="paper",
         xanchor="center", yanchor="middle", showarrow=False, font=TITLE_FONT)
    for t, px, py in titles
]

fig.update_layout(**layout)
fig.write_html("out.html")
